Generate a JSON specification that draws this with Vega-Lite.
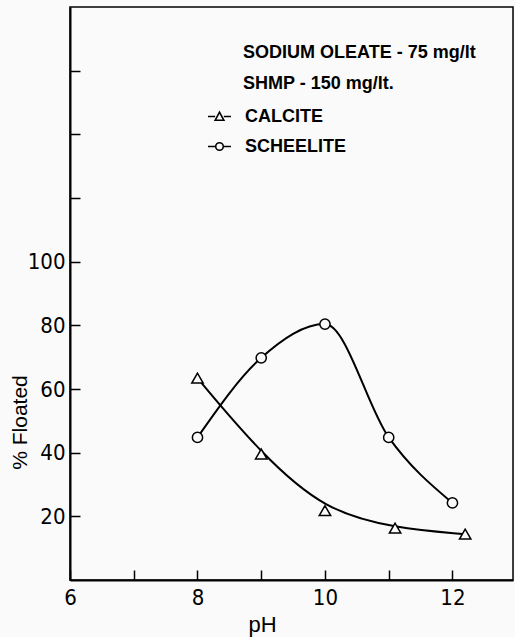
{
  "$schema": "https://vega.github.io/schema/vega-lite/v6.json",
  "width": 443,
  "height": 573,
  "autosize": "none",
  "padding": {"left": 70, "top": 7, "right": 2, "bottom": 57},
  "background": "#fafafa",
  "title": {
    "text": ["SODIUM OLEATE - 75 mg/lt", "SHMP - 150 mg/lt."],
    "anchor": "start",
    "frame": "group",
    "orient": "top",
    "offset": 0,
    "baseline": "top",
    "dx": 173,
    "dy": 86,
    "lineHeight": 31,
    "font": "Liberation Sans, Arial, sans-serif",
    "fontSize": 18,
    "fontWeight": "bold",
    "color": "black"
  },
  "config": {
    "view": {"stroke": "black", "strokeWidth": 1.5},
    "axis": {
      "domainColor": "black",
      "domainWidth": 2,
      "tickColor": "black",
      "tickWidth": 1.5,
      "tickSize": -10,
      "grid": false,
      "labelFont": "DejaVu Sans Condensed, sans-serif",
      "labelFontSize": 22,
      "labelColor": "black",
      "titleFont": "Liberation Sans, Arial, sans-serif",
      "titleFontWeight": "normal",
      "titleColor": "black"
    },
    "legend": {
      "orient": "none",
      "padding": 0,
      "labelFont": "Liberation Sans, Arial, sans-serif",
      "labelFontSize": 18,
      "labelFontWeight": "bold",
      "labelColor": "black",
      "labelOffset": 13,
      "symbolSize": 529,
      "symbolStrokeWidth": 1.6,
      "symbolFillColor": "#fafafa"
    }
  },
  "data": {
    "values": [
      {"mineral": "CALCITE", "pH": 8, "floated": 63.4},
      {"mineral": "CALCITE", "pH": 9, "floated": 39.6},
      {"mineral": "CALCITE", "pH": 10, "floated": 21.8},
      {"mineral": "CALCITE", "pH": 11.1, "floated": 16.3},
      {"mineral": "CALCITE", "pH": 12.2, "floated": 14.4},
      {"mineral": "SCHEELITE", "pH": 8, "floated": 44.8},
      {"mineral": "SCHEELITE", "pH": 9, "floated": 69.8},
      {"mineral": "SCHEELITE", "pH": 10, "floated": 80.4},
      {"mineral": "SCHEELITE", "pH": 11, "floated": 44.8},
      {"mineral": "SCHEELITE", "pH": 12, "floated": 24.2}
    ]
  },
  "encoding": {
    "x": {
      "field": "pH",
      "type": "quantitative",
      "scale": {"domain": [6, 12.95], "nice": false, "zero": false},
      "axis": {
        "values": [6, 7, 8, 9, 10, 11, 12],
        "labelExpr": "datum.value % 2 == 0 ? datum.label : ''",
        "labelPadding": 17,
        "labelFlush": false,
        "title": "pH",
        "titleFontSize": 22,
        "titleX": 192,
        "titleY": 44,
        "titleBaseline": "middle",
        "titleAlign": "center"
      }
    },
    "y": {
      "field": "floated",
      "type": "quantitative",
      "scale": {"domain": [0, 180], "nice": false},
      "axis": {
        "values": [20, 40, 60, 80, 100, 120, 140, 160],
        "labelExpr": "datum.value <= 100 ? datum.label : ''",
        "labelPadding": 15,
        "title": "% Floated",
        "titleFontSize": 21,
        "titleX": -50,
        "titleY": 415,
        "titleBaseline": "middle",
        "titleAlign": "center"
      }
    }
  },
  "layer": [
    {
      "transform": [{"filter": "datum.mineral == 'CALCITE'"}],
      "mark": {"type": "line", "interpolate": "basis", "color": "black", "strokeWidth": 2}
    },
    {
      "transform": [{"filter": "datum.mineral == 'SCHEELITE'"}],
      "mark": {"type": "line", "interpolate": "monotone", "color": "black", "strokeWidth": 2}
    },
    {
      "transform": [{"filter": "datum.mineral == 'CALCITE'"}],
      "mark": {"type": "point", "shape": "triangle-up", "filled": true, "fill": "#fafafa", "strokeWidth": 1.5, "size": 130, "opacity": 1},
      "encoding": {
        "stroke": {
          "field": "mineral",
          "type": "nominal",
          "scale": {"range": ["black"]},
          "legend": {
            "title": null,
            "legendX": 137,
            "legendY": 97,
            "symbolType": "M-1,0L-0.38,0M0.38,0L1,0M-0.38,0.33L0,-0.38L0.38,0.33Z"
          }
        }
      }
    },
    {
      "transform": [{"filter": "datum.mineral == 'SCHEELITE'"}],
      "mark": {"type": "point", "shape": "circle", "filled": true, "fill": "#fafafa", "strokeWidth": 1.5, "size": 105, "opacity": 1},
      "encoding": {
        "stroke": {
          "field": "mineral",
          "type": "nominal",
          "scale": {"range": ["black"]},
          "legend": {
            "title": null,
            "legendX": 137,
            "legendY": 127,
            "symbolType": "M-1,0L-0.33,0M0.33,0L1,0M-0.33,0A0.33,0.33 0 1,1 0.33,0A0.33,0.33 0 1,1 -0.33,0Z"
          }
        }
      }
    }
  ],
  "resolve": {"scale": {"stroke": "independent"}, "legend": {"stroke": "independent"}}
}
